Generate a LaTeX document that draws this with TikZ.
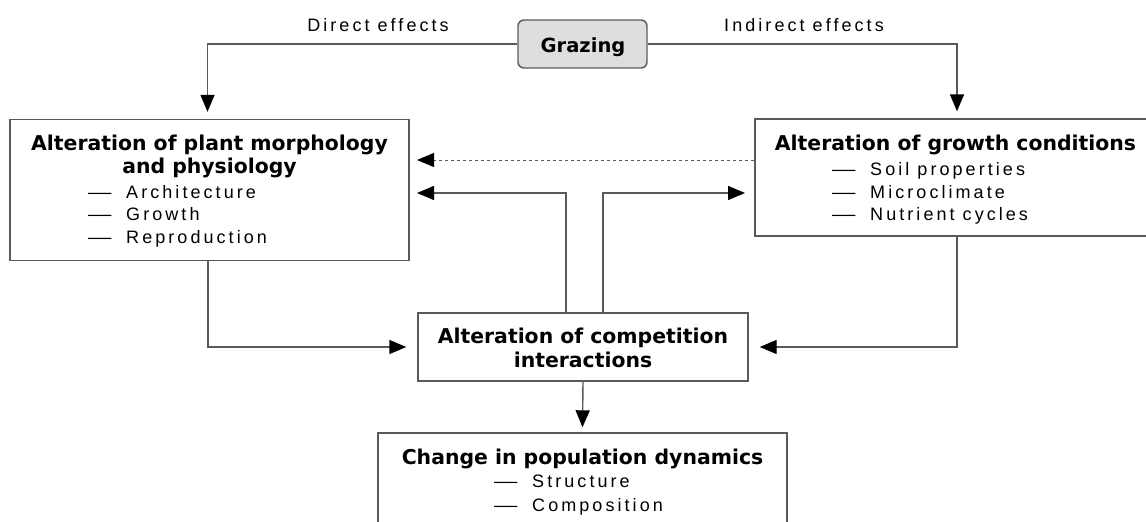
\documentclass[tikz,border=0pt]{standalone}
\usepackage{fontspec}
\setmainfont{Liberation Sans}
\newfontfamily\tfont{DejaVu Sans}
\newfontfamily\lfont[LetterSpace=17]{Liberation Sans}
\usetikzlibrary{arrows.meta,calc}
\definecolor{edge}{HTML}{5A5A5A}
\definecolor{grazefill}{HTML}{DEDEDE}
\tikzset{
  box/.style={draw=edge, line width=1.4pt, inner sep=0pt},
  ttl/.style={anchor=base, inner sep=0pt, font=\tfont\bfseries\fontsize{20.4}{24}\selectfont},
  gttl/.style={anchor=base, inner sep=0pt, font=\tfont\bfseries\fontsize{19.5}{24}\selectfont},
  itm/.style={anchor=base west, inner sep=0pt, font=\lfont\fontsize{18}{21}\selectfont},
  lbl/.style={anchor=base, inner sep=0pt, font=\lfont\fontsize{18}{21}\selectfont},
  arr/.style={draw=edge, line width=1.4pt, -{Triangle[length=17pt,width=14pt,color=black]}},
}
\newcommand{\itemdash}{\makebox[38pt][l]{\scalebox{1.3}[1]{—}}}
\begin{document}
\begin{tikzpicture}[x=1pt,y=-1pt]
\useasboundingbox (0,0) rectangle (1146,522);
\clip (0,0) rectangle (1146,522);
% boxes
\node[box, rounded corners=6pt, fill=grazefill, minimum width=129pt, minimum height=48pt] (graz) at (582.5,44) {};
\node[gttl] (grazt) at (583,52) {Grazing};
\node[box, minimum width=399pt, minimum height=141pt] (plant) at (209.5,190) {};
\node[box, minimum width=401pt, minimum height=117pt] (cond) at (955.5,177.5) {};
\node[box, minimum width=330pt, minimum height=68pt] (comp) at (583,347) {};
\node[box, minimum width=409pt, minimum height=120pt] (popn) at (582.5,493) {};
% labels
\node[lbl] (de) at (378,31) {Direct effects};
\node[lbl] (ie) at (804,31) {Indirect effects};
% plant texts
\node[ttl] (p1) at (209.5,150) {Alteration of plant morphology};
\node[ttl] (p2) at (209.5,173) {and physiology};
\node[itm] (p3) at (88,198) {\itemdash Architecture};
\node[itm] (p4) at (88,220) {\itemdash Growth};
\node[itm] (p5) at (88,243) {\itemdash Reproduction};
% cond texts
\node[ttl] (c1) at (955.5,150) {Alteration of growth conditions};
\node[itm] (c2) at (832,175) {\itemdash Soil properties};
\node[itm] (c3) at (832,198) {\itemdash Microclimate};
\node[itm] (c4) at (832,220) {\itemdash Nutrient cycles};
% comp texts
\node[ttl] (k1) at (583,343) {Alteration of competition};
\node[ttl] (k2) at (583,367) {interactions};
% popn texts
\node[ttl] (d1) at (582.5,464) {Change in population dynamics};
\node[itm] (d2) at (494,487) {\itemdash Structure};
\node[itm] (d3) at (494,511) {\itemdash Composition};
% connectors
\coordinate (dashend) at (409,160);
\coordinate (lt) at (409,193);
\coordinate (rt) at (755,193);
\draw[arr] (graz.west) -| ([xshift=-2pt,yshift=7pt]plant.north);
\draw[arr] (graz.east) -| ([xshift=1.5pt,yshift=7pt]cond.north);
\draw[arr, dashed, line width=1pt] (cond.west |- dashend) -- ([xshift=8pt]dashend);
\draw[arr] ([xshift=-17pt]comp.north) |- ([xshift=8pt]lt);
\draw[arr] ([xshift=20pt]comp.north) |- ([xshift=-10pt]rt);
\draw[arr] ([xshift=-1.5pt]plant.south) |- ([xshift=-11pt]comp.west);
\draw[arr] ([xshift=1.5pt]cond.south) |- ([xshift=11pt]comp.east);
\draw[arr] (comp.south) -- ([yshift=5pt]popn.north);
\end{tikzpicture}
\end{document}
